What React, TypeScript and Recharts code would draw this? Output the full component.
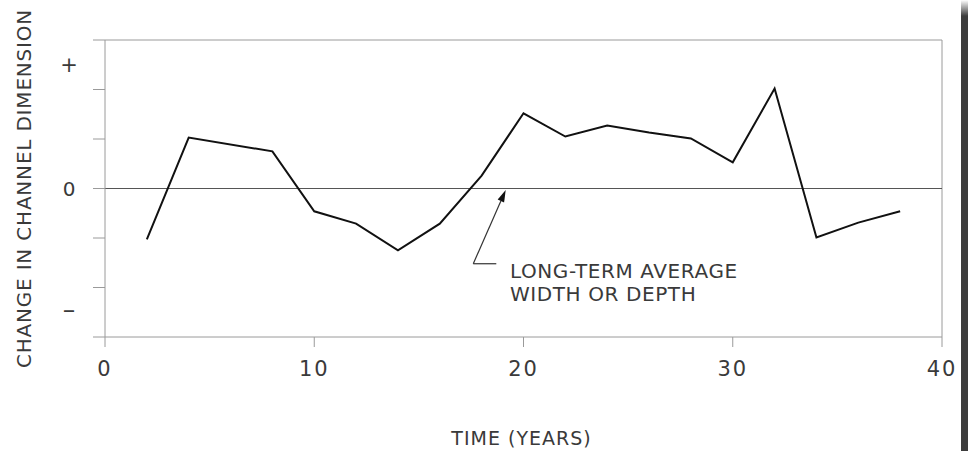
import React from "react";
import { LineChart, Line, XAxis, YAxis, ReferenceLine, ReferenceDot, Label } from "recharts";

// ---- data ----
const years = [2, 4, 8, 10, 12, 14, 16, 18, 20, 22, 24, 26, 28, 30, 32, 34, 36, 38];
const change = [-1.03, 1.03, 0.75, -0.46, -0.71, -1.25, -0.71, 0.26, 1.52, 1.05, 1.27, 1.13, 1.01, 0.53, 2.02, -0.99, -0.69, -0.46];
const xTicks = [0, 10, 20, 30, 40];
const yTicks = [-3, -2.5, -2, -1, 0, 1, 2, 2.5, 3];
const yTickLabels: { value: number; text: string; size: number; dy: number }[] = [
  { value: 2.5, text: "+", size: 21, dy: 7 },
  { value: 0, text: "0", size: 20, dy: 7 },
  { value: -2.5, text: "\u2013", size: 25, dy: 6 },
];
const yLabel = "CHANGE IN CHANNEL DIMENSION";
const xLabel = "TIME (YEARS)";
const noteLines = ["LONG-TERM AVERAGE", "WIDTH OR DEPTH"];
const arrowTail = { x: 17.6, y: -1.52 };
const arrowTip = { x: 19.15, y: -0.03 };
const leaderEnd = { x: 18.7, y: -1.52 };
const noteAnchor = { x: 19.35, y: -1.64 };

const data = years.map((t, i) => ({ t, v: change[i] }));

const FONT = "'DejaVu Sans', sans-serif";
const TEXT = "#3a3a3a";
const BOX = "#9a9a9a";

const YTick = (props: any) => {
  const { x, y, payload } = props;
  const v = payload.value;
  const lab = yTickLabels.find((l) => l.value === v);
  return (
    <g>
      {Number.isInteger(v) && <line x1={x - 12} x2={x} y1={y} y2={y} stroke={BOX} strokeWidth={1} />}
      {lab && (
        <text x={x - 36} y={y + lab.dy} textAnchor="middle" fontFamily={FONT} fontSize={lab.size} fill={TEXT}>
          {lab.text}
        </text>
      )}
    </g>
  );
};

const XTick = (props: any) => {
  const { x, payload } = props;
  return (
    <text x={x} y={376} textAnchor="middle" fontFamily={FONT} fontSize={21} letterSpacing={2} fill={TEXT}>
      {String(payload.value)}
    </text>
  );
};

const ArrowShape = (props: any) => {
  const { x1, y1, x2, y2 } = props;
  const dx = x2 - x1;
  const dy = y2 - y1;
  const len = Math.sqrt(dx * dx + dy * dy) || 1;
  const ux = dx / len;
  const uy = dy / len;
  const hl = 12;
  const hw = 3.5;
  const bx = x2 - ux * hl;
  const by = y2 - uy * hl;
  const px = -uy;
  const py = ux;
  return (
    <g>
      <line x1={x1} y1={y1} x2={bx} y2={by} stroke="#333" strokeWidth={1.2} />
      <polygon
        points={`${x2},${y2} ${bx + px * hw},${by + py * hw} ${bx - px * hw},${by - py * hw}`}
        fill="#111"
      />
    </g>
  );
};

const PlainSeg = (props: any) => {
  const { x1, y1, x2, y2 } = props;
  return <line x1={x1} y1={y1} x2={x2} y2={y2} stroke="#333" strokeWidth={1.2} />;
};

const NoteShape = (props: any) => {
  const { cx, cy } = props;
  return (
    <g>
      {noteLines.map((s, i) => (
        <text key={i} x={cx} y={cy + 8 + i * 23} fontFamily={FONT} fontSize={20} letterSpacing={0.6} fill={TEXT}>
          {s}
        </text>
      ))}
    </g>
  );
};

export default function App() {
  return (
    <div style={{ position: "absolute", left: 0, top: 0, width: 968, height: 451, background: "#fff", overflow: "hidden" }}>
      <LineChart width={968} height={451} data={data} margin={{ top: 40, right: 26, bottom: 0, left: 0 }}>
        <XAxis
          dataKey="t"
          type="number"
          domain={[0, 40]}
          ticks={xTicks}
          interval={0}
          height={114}
          tickSize={10}
          tickMargin={0}
          tickLine={{ stroke: BOX, strokeWidth: 1 }}
          axisLine={{ stroke: BOX, strokeWidth: 1 }}
          tick={<XTick />}
        >
          <Label
            content={(p: any) => {
              const vb = p.viewBox;
              return (
                <text x={vb.x + vb.width / 2 - 2} y={445} textAnchor="middle" fontFamily={FONT} fontSize={19} letterSpacing={1} fill={TEXT}>
                  {xLabel}
                </text>
              );
            }}
          />
        </XAxis>
        <YAxis
          type="number"
          domain={[-3, 3]}
          ticks={yTicks}
          interval={0}
          width={105}
          tickSize={0}
          tickMargin={0}
          tickLine={false}
          axisLine={{ stroke: BOX, strokeWidth: 1 }}
          tick={<YTick />}
        >
          <Label
            content={(p: any) => {
              const vb = p.viewBox;
              const cy = vb.y + vb.height / 2;
              return (
                <text
                  x={0}
                  y={0}
                  transform={`translate(31, ${cy}) rotate(-90)`}
                  textAnchor="middle"
                  fontFamily={FONT}
                  fontSize={20}
                  letterSpacing={0.8}
                  fill={TEXT}
                >
                  {yLabel}
                </text>
              );
            }}
          />
        </YAxis>
        <ReferenceLine y={3} stroke={BOX} strokeWidth={1} />
        <ReferenceLine x={40} stroke={BOX} strokeWidth={1} />
        <ReferenceLine y={0} stroke="#555" strokeWidth={1.2} />
        <ReferenceLine segment={[arrowTail, leaderEnd]} shape={<PlainSeg />} ifOverflow="visible" />
        <ReferenceLine segment={[arrowTail, arrowTip]} shape={<ArrowShape />} ifOverflow="visible" />
        <ReferenceDot x={noteAnchor.x} y={noteAnchor.y} r={0} shape={<NoteShape />} ifOverflow="visible" />
        <Line type="linear" dataKey="v" stroke="#111" strokeWidth={2} dot={false} isAnimationActive={false} />
      </LineChart>
      <div
        style={{
          position: "absolute",
          left: 961,
          top: 0,
          width: 7,
          height: 451,
          background: "linear-gradient(to bottom, #ffffff 0px, #3c3c3c 16px, #3c3c3c 100%)",
        }}
      />
    </div>
  );
}
